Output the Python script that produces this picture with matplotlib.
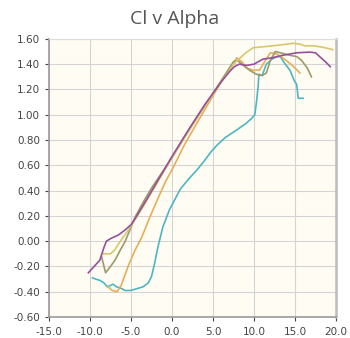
import matplotlib.pyplot as plt

# Cl vs alpha curves
purple_x = [-10.2, -9.5, -8.8, -8.3, -8.0, -7.5, -6.5, -5.7, -5.0, -4.3, -3.0, -2.0, 0.0, 2.0, 3.0, 4.0,
            5.0, 6.0, 7.0, 7.6, 8.2, 9.1, 10.0, 11.1, 12.2, 13.5, 15.2, 16.8, 17.5, 18.0, 18.7, 19.3]
purple_y = [-0.25, -0.20, -0.15, -0.05, 0.00, 0.02, 0.05, 0.09, 0.13, 0.20, 0.34, 0.45, 0.67, 0.88, 0.98, 1.08,
            1.17, 1.26, 1.34, 1.38, 1.40, 1.39, 1.40, 1.44, 1.45, 1.47, 1.49, 1.495, 1.49, 1.46, 1.42, 1.38]

khaki_x = [-8.4, -7.5, -7.0, -6.3, -5.3, -4.3, -3.0, -2.0, 0.0, 2.0, 3.0, 4.0, 5.0, 6.0, 7.0, 7.5, 8.0,
           9.0, 9.9, 11.5, 13.0, 14.8, 15.5, 16.2, 17.2, 18.3, 19.3, 19.6]
khaki_y = [-0.10, -0.10, -0.07, 0.00, 0.09, 0.19, 0.33, 0.44, 0.66, 0.87, 0.97, 1.07, 1.16, 1.26, 1.35, 1.40, 1.43,
           1.49, 1.53, 1.54, 1.55, 1.565, 1.56, 1.545, 1.545, 1.535, 1.52, 1.515]

olive_x = [-8.6, -8.1, -7.5, -6.95, -6.3, -5.7, -4.5, -3.5, -2.5, 0.0, 2.0, 4.0, 6.0, 7.0, 7.5, 8.0, 8.7,
           9.5, 10.3, 11.0, 11.5, 12.0, 12.6, 13.2, 14.4, 15.2, 15.8, 16.5, 17.0]
olive_y = [-0.12, -0.25, -0.20, -0.15, -0.07, 0.00, 0.19, 0.31, 0.42, 0.66, 0.87, 1.07, 1.27, 1.37, 1.42, 1.43, 1.39,
           1.35, 1.32, 1.31, 1.33, 1.43, 1.50, 1.49, 1.47, 1.46, 1.43, 1.37, 1.30]

gold_x = [-7.8, -7.3, -6.7, -6.2, -5.3, -4.5, -3.7, -2.7, -1.7, -0.8, 0.2, 1.5, 3.0, 4.0, 5.0, 6.0, 7.0,
          7.9, 8.5, 9.1, 10.0, 10.7, 11.3, 12.0, 12.8, 13.5, 14.3, 15.0, 15.6]
gold_y = [-0.36, -0.39, -0.40, -0.35, -0.19, -0.07, 0.03, 0.19, 0.34, 0.47, 0.59, 0.76, 0.93, 1.04, 1.15, 1.26, 1.36,
          1.45, 1.42, 1.37, 1.35, 1.355, 1.42, 1.49, 1.48, 1.45, 1.41, 1.37, 1.33]

cyan_x = [-9.7, -9.3, -8.8, -8.3, -7.9, -7.5, -7.2, -6.8, -6.3, -5.7, -5.1, -4.5, -3.5, -2.9, -2.5, -2.1,
          -1.7, -1.1, -0.3, 1.0, 2.0, 3.0, 4.0, 4.8, 5.5, 6.5, 7.9, 9.0, 9.7, 10.1, 10.3,
          10.5, 10.6, 11.0, 11.5, 12.2, 12.8, 13.2, 13.7, 14.4, 14.9, 15.2, 15.4, 16.0]
cyan_y = [-0.29, -0.30, -0.31, -0.33, -0.36, -0.35, -0.34, -0.36, -0.37, -0.39, -0.39, -0.38, -0.36, -0.33, -0.28, -0.17,
          -0.04, 0.115, 0.25, 0.41, 0.49, 0.56, 0.64, 0.71, 0.76, 0.82, 0.88, 0.93, 0.97, 1.00, 1.10,
          1.22, 1.32, 1.31, 1.40, 1.44, 1.46, 1.46, 1.41, 1.35, 1.27, 1.24, 1.13, 1.13]

x_ticks = [-15, -10, -5, 0, 5, 10, 15, 20]
y_ticks = [-0.6, -0.4, -0.2, 0.0, 0.2, 0.4, 0.6, 0.8, 1.0, 1.2, 1.4, 1.6]

fig = plt.figure(figsize=(3.5, 3.38), dpi=100)
ax = fig.add_axes([0.14, 0.062, 0.82, 0.823])
ax.set_facecolor('#fffdf3')

ax.plot(cyan_x, cyan_y, color='#4db6c2', lw=1.2)
ax.plot(gold_x, gold_y, color='#e6ae5a', lw=1.2)
ax.plot(olive_x, olive_y, color='#9c9a6a', lw=1.2)
ax.plot(khaki_x, khaki_y, color='#d9c66e', lw=1.2)
ax.plot(purple_x, purple_y, color='#96509a', lw=1.2)

ax.set_xlim(-15, 20)
ax.set_ylim(-0.6, 1.6)
ax.set_xticks(x_ticks)
ax.set_yticks(y_ticks)
ax.set_xticklabels(['%.1f' % v for v in x_ticks])
ax.set_yticklabels(['%.2f' % v for v in y_ticks])
ax.grid(True, color='#d4d4d4', lw=0.8)
ax.set_axisbelow(True)

for s in ['left', 'bottom']:
    ax.spines[s].set_color('#9a9a9a')
    ax.spines[s].set_linewidth(1.2)
ax.spines['top'].set_color('#dddddd')
ax.spines['right'].set_color('#bbbbbb')
ax.spines['right'].set_linewidth(1.8)
ax.tick_params(labelsize=7.5, colors='#444444', length=3, width=0.8)
ax.tick_params(axis='x', pad=4)

fig.text(0.5, 0.945, 'Cl v Alpha', ha='center', va='center', fontsize=14, color='#555555',
         family='Open Sans')

fig.savefig('out.png', dpi=100)
